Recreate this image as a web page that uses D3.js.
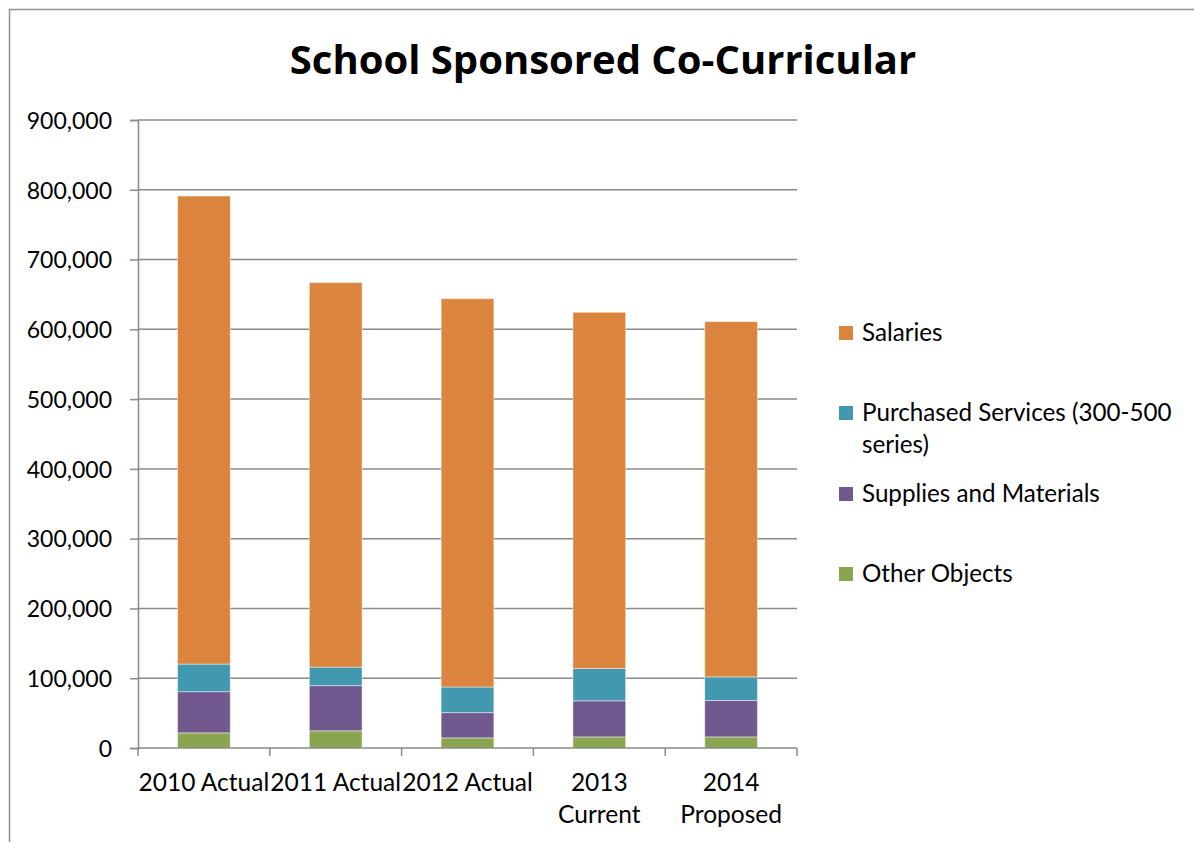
<!DOCTYPE html>
<html>
<head>
<meta charset="utf-8">
<script src="https://cdn.jsdelivr.net/npm/d3@7/dist/d3.min.js"></script>
<style>
  html, body { margin: 0; padding: 0; background: #fff; }
  svg { display: block; font-family: Lato, "Open Sans", sans-serif; }
</style>
</head>
<body>
<svg id="chart" width="1194" height="842"></svg>
<script>
// Budget categories (x axis), one label line per array entry
const categories = ["2010 Actual", "2011 Actual", "2012 Actual", "2013 Current", "2014 Proposed"];
const categoryLines = [["2010 Actual"], ["2011 Actual"], ["2012 Actual"], ["2013", "Current"], ["2014", "Proposed"]];

// Stacked series, bottom to top
const otherObjects       = [21700, 24600, 14500, 15900, 15900];
const suppliesMaterials  = [59000, 64800, 36200, 51700, 52200];
const purchasedServices  = [39600, 26500, 36700, 46400, 33800];
const salaries           = [670700, 551100, 556500, 510400, 509100];

const seriesNames = ["Other Objects", "Supplies and Materials", "Purchased Services (300-500 series)", "Salaries"];
const seriesValues = [otherObjects, suppliesMaterials, purchasedServices, salaries];
const seriesColors = ["#89a54e", "#71588f", "#4198af", "#db843d"];

// Legend order (top to bottom) and wrapped label lines
const legendOrder = [3, 2, 1, 0];
const legendLines = [["Salaries"], ["Purchased Services (300-500", "series)"], ["Supplies and Materials"], ["Other Objects"]];

const yTicks = [0, 100000, 200000, 300000, 400000, 500000, 600000, 700000, 800000, 900000];
const titleText = "School Sponsored Co-Curricular";

const svg = d3.select("#chart");
const gridColor = "#8a8a8a";

// Chart area border
svg.append("rect")
  .attr("x", 9.5).attr("y", 9.5)
  .attr("width", 1400).attr("height", 1000)
  .attr("fill", "none").attr("stroke", "#8f8f8f").attr("stroke-width", 1.5);

const plot = { left: 138, right: 797, top: 120, bottom: 748 };

const x = d3.scaleBand().domain(categories).range([plot.left, plot.right]).paddingInner(0.6).paddingOuter(0.3);
const y = d3.scaleLinear().domain([0, 900000]).range([plot.bottom, plot.top]);

// Horizontal gridlines
svg.append("g").selectAll("line").data(yTicks.slice(1)).join("line")
  .attr("x1", plot.left).attr("x2", plot.right)
  .attr("y1", d => y(d)).attr("y2", d => y(d))
  .attr("stroke", gridColor).attr("stroke-width", 1.5);

// Stacked bars
const table = categories.map((c, i) => {
  const row = { category: c };
  seriesNames.forEach((n, s) => { row[n] = seriesValues[s][i]; });
  return row;
});
const stacked = d3.stack().keys(seriesNames)(table);

svg.append("g").selectAll("g").data(stacked).join("g")
  .attr("fill", (d, i) => seriesColors[i])
  .selectAll("rect").data(d => d).join("rect")
    .attr("x", d => x(d.data.category))
    .attr("width", x.bandwidth())
    .attr("y", d => y(d[1]))
    .attr("height", d => y(d[0]) - y(d[1]))
    .attr("stroke", "rgba(255,255,255,0.45)")
    .attr("stroke-width", 1);

// Y axis
const yAxis = svg.append("g")
  .attr("transform", `translate(${plot.left},0)`)
  .call(d3.axisLeft(y).tickValues(yTicks).tickSize(8).tickPadding(18)
    .tickFormat(d => d3.format(",")(d)));
yAxis.select(".domain").attr("stroke", gridColor).attr("stroke-width", 1.5);
yAxis.selectAll(".tick line").attr("stroke", gridColor).attr("stroke-width", 1.5);
yAxis.selectAll(".tick text").attr("fill", "#000").style("font-size", "23px")
  .style("font-family", "Lato, 'Open Sans', sans-serif").attr("dy", "0.36em");

// X axis with ticks between categories
const xEdges = categories.map(c => x(c) - x.step() * x.paddingInner() / 2).concat([plot.right]);
const xg = svg.append("g");
xg.append("line")
  .attr("x1", plot.left).attr("x2", plot.right)
  .attr("y1", plot.bottom).attr("y2", plot.bottom)
  .attr("stroke", gridColor).attr("stroke-width", 1.5);
xg.selectAll("line.tick").data(xEdges).join("line").attr("class", "tick")
  .attr("x1", d => d).attr("x2", d => d)
  .attr("y1", plot.bottom).attr("y2", plot.bottom + 8)
  .attr("stroke", gridColor).attr("stroke-width", 1.5);

const catText = svg.append("g").selectAll("text").data(categories).join("text")
  .attr("x", d => x(d) + x.bandwidth() / 2)
  .attr("y", 791)
  .attr("text-anchor", "middle")
  .style("font-size", "24.5px");
catText.selectAll("tspan").data((d, i) => categoryLines[i]).join("tspan")
  .attr("x", function () { return this.parentNode.getAttribute("x"); })
  .attr("dy", (d, j) => j === 0 ? 0 : 32)
  .text(d => d);

// Legend
const legendY = [333, 413, 494, 574];
const legend = svg.append("g").selectAll("g").data(legendOrder).join("g")
  .attr("transform", (d, i) => `translate(839,${legendY[i]})`);
legend.append("rect")
  .attr("x", 0).attr("y", -7).attr("width", 14).attr("height", 14)
  .attr("fill", d => seriesColors[d]);
const legendText = legend.append("text")
  .attr("x", 23).attr("y", 8)
  .style("font-size", "24.2px");
legendText.selectAll("tspan").data((d, i) => legendLines[i]).join("tspan")
  .attr("x", 23).attr("dy", (d, j) => j === 0 ? 0 : 32)
  .text(d => d);

// Title, sized to span its box
const title = svg.append("text")
  .attr("x", 603).attr("y", 74)
  .attr("text-anchor", "middle")
  .style("font-family", "'Open Sans', Lato, sans-serif")
  .style("font-size", "38px").style("font-weight", "bold")
  .text(titleText);
const titleWidth = title.node().getComputedTextLength();
title.style("font-size", (38 * 626 / titleWidth).toFixed(1) + "px");
</script>
</body>
</html>
